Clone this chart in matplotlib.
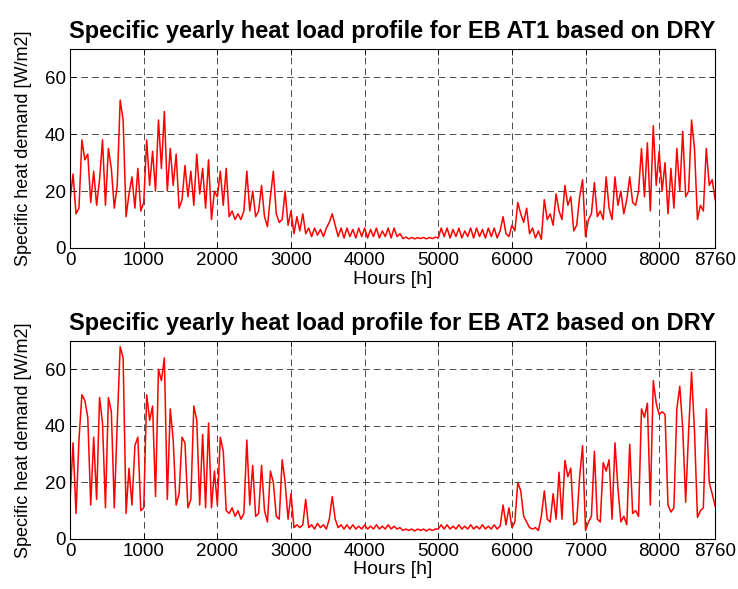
import numpy as np
import matplotlib
matplotlib.use("Agg")
import matplotlib.pyplot as plt

plt.rcParams['font.family'] = ['Liberation Sans', 'DejaVu Sans']

# Readings every 40 h (0 .. 8760 h)
at1_values = [
    17, 26, 12, 14, 38, 31, 33, 16, 27, 15, 24, 38, 15, 35, 28, 14, 22, 52, 45, 11,
    19, 25, 14, 28, 13, 16, 38, 22, 34, 20, 45, 28, 48, 20, 35, 22, 33, 14, 17, 29,
    18, 27, 15, 33, 19, 28, 14, 31, 10, 20, 18, 27, 15, 28, 11, 13, 10, 12, 10, 13,
    27, 13, 20, 11, 13, 22, 11, 7.5, 18, 27, 12, 9, 10, 20, 8, 13, 5, 11, 6, 12,
    5, 7, 4, 7, 4.5, 6.5, 4, 7, 9, 12, 8, 4, 7, 3.5, 7, 4, 6.5, 3.5, 7, 4,
    7, 3.5, 6.5, 4, 7, 3.5, 6, 4, 7, 3.5, 7, 4, 5, 3.3, 3.8, 3.2, 3.7, 3.2, 3.6, 3.3,
    3.7, 3.2, 3.7, 3.3, 3.8, 3.5, 7, 4, 7, 3.5, 6.5, 4, 7, 3.5, 6, 4, 7, 3.5, 7, 4,
    6.5, 3.5, 7, 4, 7, 3.5, 6, 11, 5, 4, 8, 6, 16, 12, 9, 14, 5, 7, 3.5, 6,
    3, 17, 10, 12, 8, 19, 13, 10, 22, 15, 18, 6, 8, 18, 24, 4, 10, 12, 23, 11,
    13, 10, 25, 14, 10, 25, 15, 20, 12, 17, 25, 16, 15, 20, 35, 18, 37, 13, 43, 22,
    34, 20, 30, 12, 28, 14, 35, 20, 41, 18, 20, 45, 35, 10, 15, 13, 35, 22, 24, 17,
]
at2_values = [
    14, 34, 9, 35, 51, 49, 43, 12, 36, 14, 50, 41, 11, 50, 45, 11, 41, 68, 64, 9,
    25, 12, 33, 36, 10, 11, 51, 42, 47, 15, 60, 56, 64, 14, 46, 35, 12, 16, 36, 34,
    11, 14, 47, 42, 12, 37, 11, 41, 11, 24, 12, 36, 31, 10, 9, 11, 8, 10, 7, 9,
    35, 12, 26, 8, 9, 26, 10, 6, 24, 20, 8, 7, 28, 20, 7, 16, 4, 5, 4, 5,
    14, 4, 5, 3.5, 5.5, 4, 5, 3.5, 7, 15, 7, 4, 5, 3.5, 5, 3.5, 5, 3.5, 4.5, 3.5,
    5, 3.5, 4.5, 3.5, 5, 3.5, 4.5, 3.5, 5, 3.5, 4.5, 3.5, 4, 3, 3.5, 3, 3.5, 2.8, 3.5, 3,
    3.5, 2.8, 3.5, 3, 3.5, 3.5, 5, 3.5, 5, 3.5, 4.5, 3.5, 5, 3.5, 4.5, 3.5, 5, 3.5, 4.5, 3.5,
    5, 3.5, 4.5, 3.5, 5, 3.5, 4.5, 12, 5, 11, 4, 6, 20, 17, 8, 6, 4, 3.5, 4, 3,
    8, 17, 7, 6, 16, 7, 23.6, 7, 27.8, 22, 25, 5, 6, 22, 33, 3, 6, 8, 31, 7,
    6, 27, 24, 28, 7, 34, 18, 6, 8, 5, 33.5, 9, 10, 8, 46, 43, 48, 12, 56, 48,
    44, 45, 44, 12, 9.5, 11, 46, 54, 39, 13, 38, 59, 38, 7.6, 10, 11, 46, 20, 16, 11.6,
]
x_ticks = [0, 1000, 2000, 3000, 4000, 5000, 6000, 7000, 8000, 8760]
y_ticks = [0, 20, 40, 60]
titles = ["Specific yearly heat load profile for EB AT1 based on DRY",
          "Specific yearly heat load profile for EB AT2 based on DRY"]

fig = plt.figure(figsize=(7.38, 5.89), dpi=100)
axes_pos = [[0.095, 0.579, 0.874, 0.338], [0.095, 0.085, 0.874, 0.336]]

for pos, vals, title in zip(axes_pos, [at1_values, at2_values], titles):
    ax = fig.add_axes(pos)
    hours = np.linspace(0, 8760, len(vals))
    ax.plot(hours, vals, color='#ff0000', lw=1.1)
    ax.set_xlim(0, 8760)
    ax.set_ylim(0, 70)
    ax.set_xticks(x_ticks)
    ax.set_yticks(y_ticks)
    ax.tick_params(direction='in', top=True, right=True, labelsize=13.5,
                   length=4, width=0.6, pad=3)
    ax.grid(True, color='#303030', linestyle=(0, (8, 5)), lw=0.6)
    for s in ax.spines.values():
        s.set_linewidth(0.8)
    ax.set_title(title, fontsize=17, fontweight='bold', pad=8)
    ax.set_xlabel("Hours [h]", fontsize=14, labelpad=1)
    ax.set_ylabel("Specific heat demand [W/m2]", fontsize=13, labelpad=9)

fig.savefig("out.png", dpi=100)
